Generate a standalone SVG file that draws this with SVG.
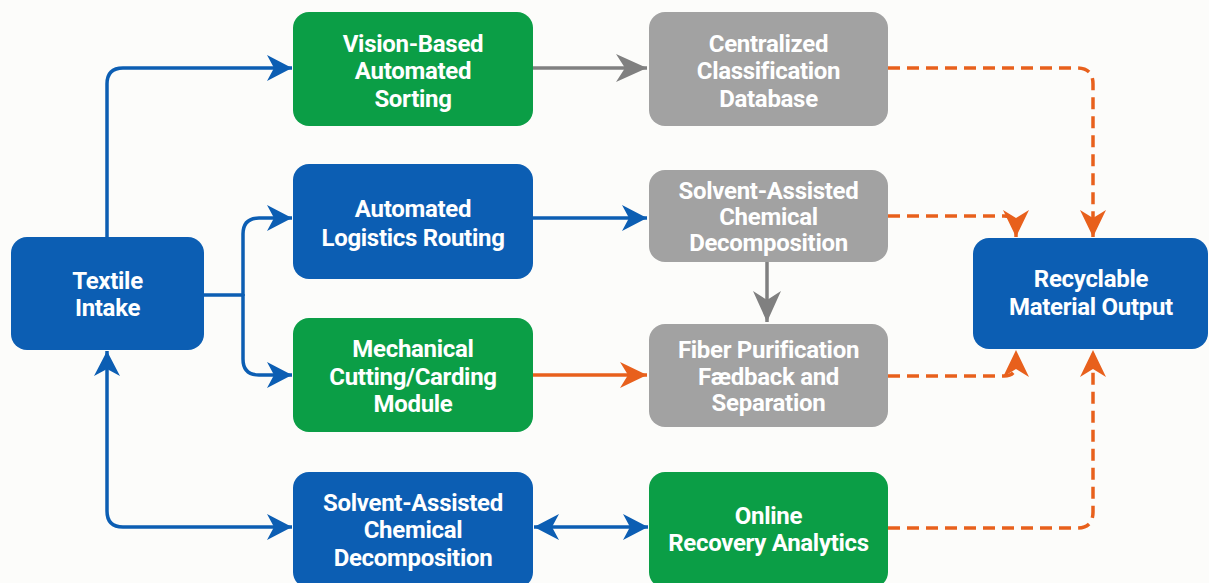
<svg xmlns="http://www.w3.org/2000/svg" width="1209" height="583" viewBox="0 0 1209 583">
  <style>
    .box-blue { fill: #0C5EB3; }
    .box-green { fill: #0B9E46; }
    .box-gray { fill: #A2A2A2; }
    .label { font-family: Roboto, "Liberation Sans", Arial, sans-serif; font-weight: bold; font-size: 24px; fill: #FFFFFF; text-anchor: middle; letter-spacing: -0.3px; }
    .wire { fill: none; stroke-width: 3.5; }
    .w-blue { stroke: #0C5EB3; }
    .w-gray { stroke: #808080; }
    .w-orange { stroke: #E8601C; }
    .dash { stroke-dasharray: 12 7; }
  </style>
  <defs>
    <marker id="head-blue" markerUnits="userSpaceOnUse" markerWidth="26" markerHeight="28" refX="25" refY="14" orient="auto-start-reverse" viewBox="0 0 26 28">
      <path d="M0,1 L25,14 L0,27 L7,14 Z" fill="#0C5EB3"/>
    </marker>
    <marker id="head-gray" markerUnits="userSpaceOnUse" markerWidth="32" markerHeight="30" refX="31" refY="15" orient="auto" viewBox="0 0 32 30">
      <path d="M0,1 L31,15 L0,29 L9,15 Z" fill="#808080"/>
    </marker>
    <marker id="head-orange" markerUnits="userSpaceOnUse" markerWidth="28" markerHeight="28" refX="27" refY="14" orient="auto" viewBox="0 0 28 28">
      <path d="M0,1 L27,14 L0,27 L8,14 Z" fill="#E8601C"/>
    </marker>
  </defs>

  <rect width="1209" height="583" fill="#FCFCFA"/>

  <!-- connectors -->
  <g id="connectors">
    <path class="wire w-blue" d="M107,237 V84 Q107,68 123,68 H292" marker-end="url(#head-blue)"/>
    <path class="wire w-blue" d="M204,295 H243"/>
    <path class="wire w-blue" d="M243,296 V234 Q243,218 259,218 H292" marker-end="url(#head-blue)"/>
    <path class="wire w-blue" d="M243,294 V359 Q243,375 259,375 H292" marker-end="url(#head-blue)"/>
    <path class="wire w-blue" d="M107,351 V511 Q107,527 123,527 H292" marker-start="url(#head-blue)" marker-end="url(#head-blue)"/>
    <path class="wire w-blue" d="M534,527 H648" marker-start="url(#head-blue)" marker-end="url(#head-blue)"/>
    <path class="wire w-gray" d="M533,68 H647" marker-end="url(#head-gray)"/>
    <path class="wire w-blue" d="M533,218 H647" marker-end="url(#head-blue)"/>
    <path class="wire w-gray" d="M767,262 V322" marker-end="url(#head-gray)"/>
    <path class="wire w-orange" d="M533,375 H647" marker-end="url(#head-orange)"/>
    <path class="wire w-orange dash" d="M888,68 H1077 Q1093,68 1093,84 V237" marker-end="url(#head-orange)"/>
    <path class="wire w-orange dash" d="M888,216 H1004 Q1016,216 1016,228 V237" marker-end="url(#head-orange)"/>
    <path class="wire w-orange dash" d="M888,376 H1004 Q1016,376 1016,364 V350" marker-end="url(#head-orange)"/>
    <path class="wire w-orange dash" d="M888,528 H1077 Q1093,528 1093,512 V350" marker-end="url(#head-orange)"/>
  </g>

  <!-- nodes -->
  <g id="textile-intake">
    <rect class="box-blue" x="11" y="237" width="193" height="113" rx="16"/>
    <text class="label" x="107.5" y="289">Textile</text>
    <text class="label" x="107.5" y="316">Intake</text>
  </g>
  <g id="vision-sorting">
    <rect class="box-green" x="293" y="12" width="240" height="114" rx="16"/>
    <text class="label" x="413" y="52">Vision-Based</text>
    <text class="label" x="413" y="79">Automated</text>
    <text class="label" x="413" y="107">Sorting</text>
  </g>
  <g id="logistics-routing">
    <rect class="box-blue" x="293" y="164" width="240" height="115" rx="16"/>
    <text class="label" x="413" y="217">Automated</text>
    <text class="label" x="413" y="246">Logistics Routing</text>
  </g>
  <g id="mechanical-module">
    <rect class="box-green" x="293" y="318" width="240" height="114" rx="16"/>
    <text class="label" x="413" y="357">Mechanical</text>
    <text class="label" x="413" y="385">Cutting/Carding</text>
    <text class="label" x="413" y="412">Module</text>
  </g>
  <g id="solvent-decomposition-blue">
    <rect class="box-blue" x="293" y="472" width="240" height="116" rx="16"/>
    <text class="label" x="413" y="511">Solvent-Assisted</text>
    <text class="label" x="413" y="538">Chemical</text>
    <text class="label" x="413" y="566">Decomposition</text>
  </g>
  <g id="classification-database">
    <rect class="box-gray" x="649" y="12" width="239" height="114" rx="16"/>
    <text class="label" x="768.5" y="52">Centralized</text>
    <text class="label" x="768.5" y="79">Classification</text>
    <text class="label" x="768.5" y="107">Database</text>
  </g>
  <g id="solvent-decomposition-gray">
    <rect class="box-gray" x="649" y="170" width="239" height="92" rx="16"/>
    <text class="label" x="768.5" y="199">Solvent-Assisted</text>
    <text class="label" x="768.5" y="225">Chemical</text>
    <text class="label" x="768.5" y="251">Decomposition</text>
  </g>
  <g id="fiber-purification">
    <rect class="box-gray" x="649" y="324" width="239" height="103" rx="16"/>
    <text class="label" x="768.5" y="358">Fiber Purification</text>
    <text class="label" x="768.5" y="385">Fædback and</text>
    <text class="label" x="768.5" y="411">Separation</text>
  </g>
  <g id="recovery-analytics">
    <rect class="box-green" x="649" y="472" width="239" height="116" rx="16"/>
    <text class="label" x="768.5" y="524">Online</text>
    <text class="label" x="768.5" y="551">Recovery Analytics</text>
  </g>
  <g id="material-output">
    <rect class="box-blue" x="973" y="238" width="235" height="111" rx="16"/>
    <text class="label" x="1091" y="287">Recyclable</text>
    <text class="label" x="1091" y="315">Material Output</text>
  </g>
</svg>
